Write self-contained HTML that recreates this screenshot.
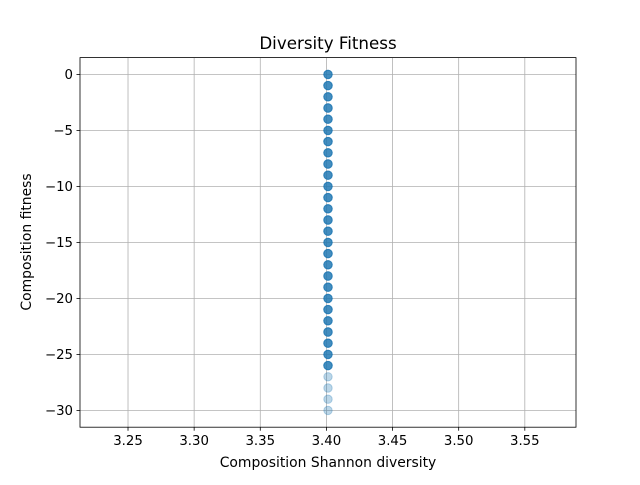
<!DOCTYPE html>
<html><head><meta charset="utf-8"><style>
body{margin:0;background:#fff}
svg text{font-family:"DejaVu Sans","Liberation Sans",sans-serif;fill:#000}
</style></head><body>
<svg id="c" width="640" height="480" viewBox="0 0 640 480" xmlns="http://www.w3.org/2000/svg">
<rect width="640" height="480" fill="#fff"/>
<g id="grid"></g>
<g id="pts"></g>
<rect x="80" y="57.6" width="496" height="369.6" fill="none" stroke="#000" stroke-width="0.8"/>
<g id="ticks"></g>
<text x="328" y="49" font-size="16.7" text-anchor="middle">Diversity Fitness</text>
<text x="328" y="467" font-size="13.9" text-anchor="middle">Composition Shannon diversity</text>
<text transform="translate(31,242) rotate(-90)" font-size="13.9" text-anchor="middle">Composition fitness</text>
</svg>
<script>
const xTicks=[3.25,3.30,3.35,3.40,3.45,3.50,3.55];
const yTicks=[0,-5,-10,-15,-20,-25,-30];
const xVal=3.4012;
const fitness=[0,-1,-2,-3,-4,-5,-6,-7,-8,-9,-10,-11,-12,-13,-14,-15,-16,-17,-18,-19,-20,-21,-22,-23,-24,-25,-26,-27,-28,-29,-30];
const counts=[5,5,5,5,5,5,5,5,5,5,5,5,5,5,5,5,5,5,5,5,5,5,5,5,5,5,5,1,1,1,1];
const X0=80,X1=576,Y0=57.6,Y1=427.2,xmin=3.2137,xmax=3.5887,ymin=-31.5,ymax=1.5;
const sx=v=>X0+(v-xmin)/(xmax-xmin)*(X1-X0);
const sy=v=>Y1-(v-ymin)/(ymax-ymin)*(Y1-Y0);
const NS="http://www.w3.org/2000/svg";
const g=document.getElementById('grid'),t=document.getElementById('ticks'),p=document.getElementById('pts');
function mk(tag,a,par){const e=document.createElementNS(NS,tag);for(const k in a)e.setAttribute(k,a[k]);par.appendChild(e);return e;}
xTicks.forEach(v=>{const x=sx(v);
 const l=mk('line',{x1:x,x2:x,y1:Y0,y2:Y1,stroke:'#b0b0b0','stroke-width':0.8},g);
 
 
 mk('line',{x1:x,x2:x,y1:Y1,y2:Y1+3.5,stroke:'#000','stroke-width':0.8},t);
 const tx=mk('text',{x:x,y:Y1+18,'font-size':13.3,'text-anchor':'middle'},t);tx.textContent=v.toFixed(2);
 
 });
yTicks.forEach(v=>{const y=sy(v);
 const l=mk('line',{x1:X0,x2:X1,y1:y,y2:y,stroke:'#b0b0b0','stroke-width':0.8},g);
 
 
 mk('line',{x1:X0-3.5,x2:X0,y1:y,y2:y,stroke:'#000','stroke-width':0.8},t);
 const tx=mk('text',{x:X0-7,y:y+4.8,'font-size':13.3,'text-anchor':'end'},t);tx.textContent=String(v).replace('-','\u2212');
 
 });
fitness.forEach((v,i)=>{for(let k=0;k<counts[i];k++){
 const c=mk('circle',{cx:sx(xVal),cy:sy(v),r:4.2,fill:'#1f77b4','fill-opacity':0.3,stroke:'#1f77b4','stroke-opacity':0.3,'stroke-width':1},p);
 
 }});
</script>
</body></html>
